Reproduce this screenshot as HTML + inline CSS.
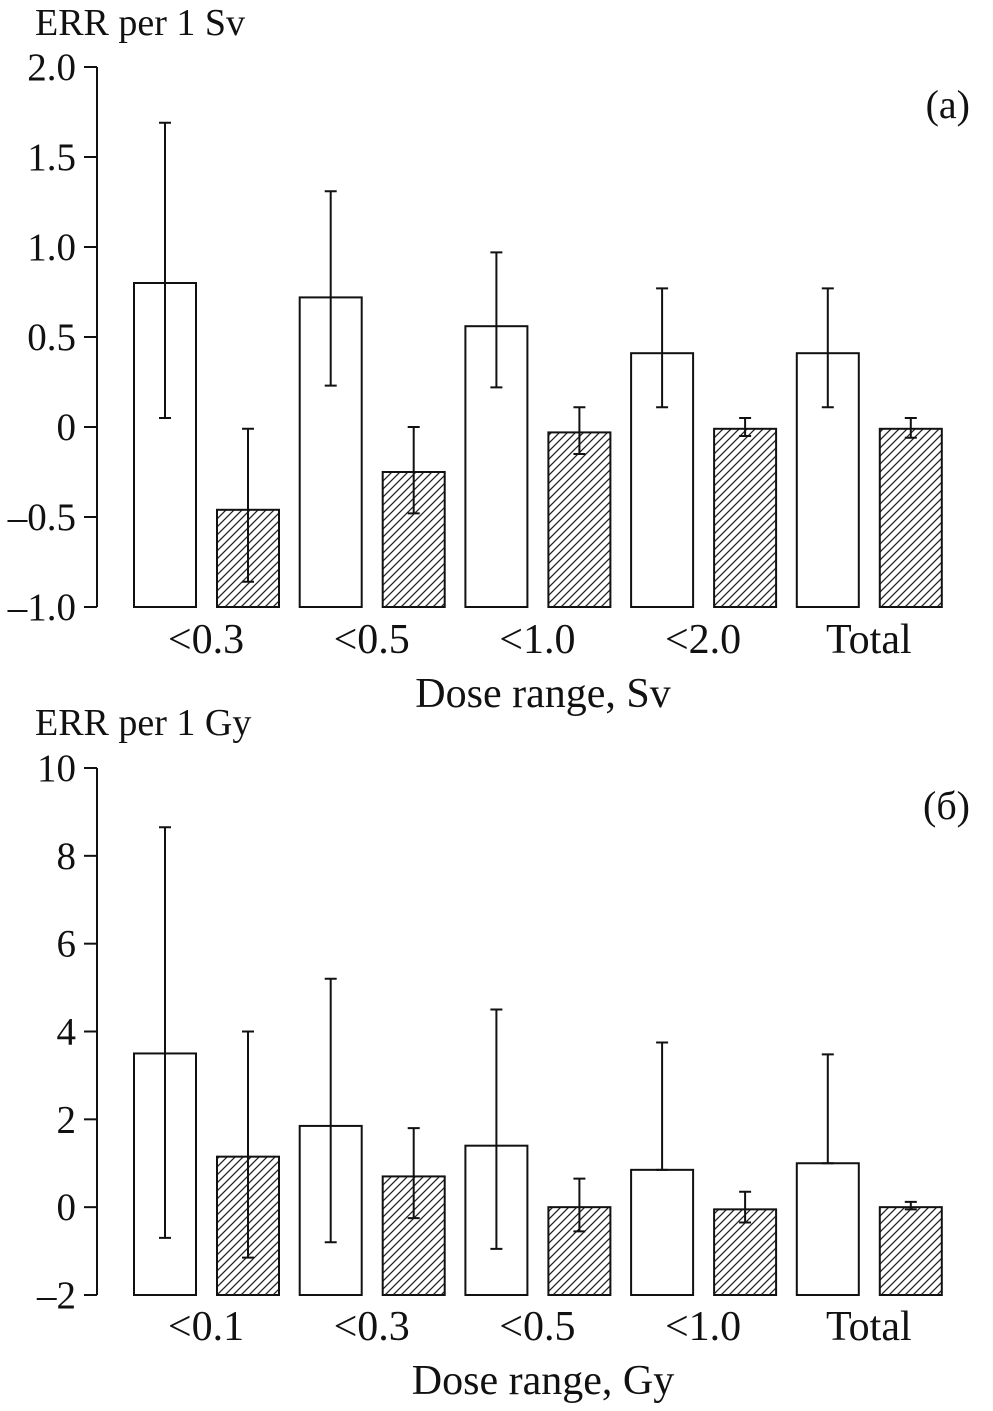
<!DOCTYPE html>
<html><head><meta charset="utf-8"><style>
html,body{margin:0;padding:0;background:#fff}
svg text{font-family:"Liberation Serif",serif;fill:#111}
</style></head><body>
<svg id="c" width="993" height="1406" viewBox="0 0 993 1406" xmlns="http://www.w3.org/2000/svg">
<defs><pattern id="h" patternUnits="userSpaceOnUse" width="8" height="8"><path d="M-2,10 L10,-2 M-2,2 L2,-2 M6,10 L10,6" stroke="#222" stroke-width="1.3"/></pattern></defs>
</svg>
<script>
const catsA=["<0.3","<0.5","<1.0","<2.0","Total"];
const openA=[0.80,0.72,0.56,0.41,0.41];
const openALo=[0.05,0.23,0.22,0.11,0.11];
const openAHi=[1.69,1.31,0.97,0.77,0.77];
const hatA=[-0.46,-0.25,-0.03,-0.01,-0.01];
const hatALo=[-0.86,-0.48,-0.15,-0.05,-0.06];
const hatAHi=[-0.01,0.0,0.11,0.05,0.05];
const ticksA=["2.0","1.5","1.0","0.5","0","\u20130.5","\u20131.0"];
const tickValsA=[2,1.5,1,0.5,0,-0.5,-1];
const catsB=["<0.1","<0.3","<0.5","<1.0","Total"];
const openB=[3.5,1.85,1.4,0.85,1.0];
const openBLo=[-0.7,-0.8,-0.95,0.85,1.0];
const openBHi=[8.65,5.2,4.5,3.75,3.48];
const hatB=[1.15,0.7,0.0,-0.05,0.0];
const hatBLo=[-1.15,-0.25,-0.55,-0.35,-0.05];
const hatBHi=[4.0,1.8,0.65,0.35,0.12];
const ticksB=["10","8","6","4","2","0","\u20132"];
const tickValsB=[10,8,6,4,2,0,-2];

const svg=document.getElementById('c');
const NS="http://www.w3.org/2000/svg";
function mk(t,a,p){const e=document.createElementNS(NS,t);for(const k in a)e.setAttribute(k,a[k]);(p||svg).appendChild(e);return e;}
function panel(o){
  const g=mk('g',{});
  
  
  const y=v=>o.y0+(o.max-v)/(o.max-o.min)*(o.y1-o.y0);
  const ax=mk('line',{x1:97,x2:97,y1:o.y0,y2:o.y1,stroke:'#111','stroke-width':2},g);
  
  
  o.tv.forEach((v,i)=>{
    mk('line',{x1:84,x2:97,y1:y(v),y2:y(v),stroke:'#111','stroke-width':2},g);
    const t=mk('text',{x:76,y:y(v)+13,'text-anchor':'end','font-size':39},g);
    t.textContent=o.tl[i];
    
    
  });
  const base=y(o.min);
  o.cats.forEach((c,i)=>{
    const gx=134+i*165.7;
    [[o.op,o.oLo,o.oHi,gx,'#fff','open-bar'],[o.ht,o.hLo,o.hHi,gx+83,'url(#h)','hatched-bar']].forEach(s=>{
      const v=s[0][i],x=s[3],w=62;
      const r=mk('rect',{x:x,y:y(v),width:w,height:base-y(v),fill:s[4],stroke:'#111','stroke-width':2},g);
      
      
      const cx=x+w/2;
      const e=mk('path',{d:`M${cx},${y(s[1][i])}V${y(s[2][i])}M${cx-6},${y(s[1][i])}H${cx+6}M${cx-6},${y(s[2][i])}H${cx+6}`,stroke:'#111','stroke-width':2,fill:'none'},g);
      
      
    });
    const t=mk('text',{x:gx+72,y:o.catY,'text-anchor':'middle','font-size':42},g);
    t.textContent=c;
    
    
  });
  const yt=mk('text',{x:35,y:o.titleY,'font-size':38},g);
  yt.textContent=o.ytitle;
  
  
  const xt=mk('text',{x:543,y:o.catY+54,'text-anchor':'middle','font-size':42},g);
  xt.textContent=o.xtitle;
  
  
  const pl=mk('text',{x:970,y:o.y0+51,'text-anchor':'end','font-size':40},g);
  pl.textContent=o.pl;
  
  
}
panel({name:'panel-a',y0:67,y1:607,max:2,min:-1,cats:catsA,op:openA,oLo:openALo,oHi:openAHi,ht:hatA,hLo:hatALo,hHi:hatAHi,tv:tickValsA,tl:ticksA,catY:653,titleY:35,ytitle:'ERR per 1 Sv',xtitle:'Dose range, Sv',pl:'(a)'});
panel({name:'panel-b',y0:768,y1:1295,max:10,min:-2,cats:catsB,op:openB,oLo:openBLo,oHi:openBHi,ht:hatB,hLo:hatBLo,hHi:hatBHi,tv:tickValsB,tl:ticksB,catY:1340,titleY:735,ytitle:'ERR per 1 Gy',xtitle:'Dose range, Gy',pl:'(\u0431)'});
</script>
</body></html>
